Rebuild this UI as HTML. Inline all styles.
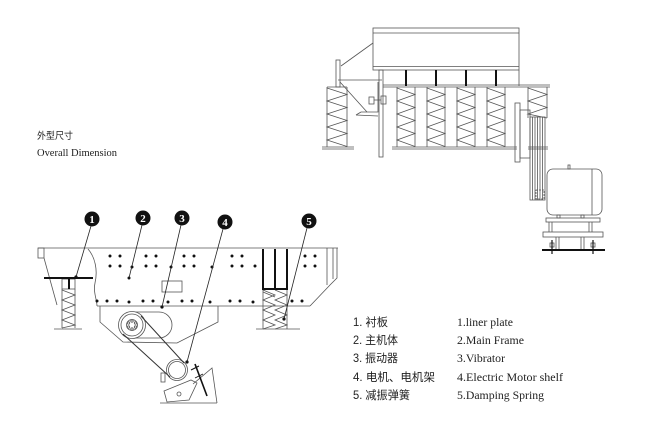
<!DOCTYPE html>
<html><head><meta charset="utf-8"><style>
html,body{margin:0;padding:0;background:#fff;}
svg{display:block;}
</style></head><body>
<svg width="645" height="444" viewBox="0 0 645 444" xmlns="http://www.w3.org/2000/svg">
<rect width="645" height="444" fill="#fff"/>

<!-- ============ TOP END VIEW ============ -->
<g stroke="#555" stroke-width="0.8" fill="none">
  <!-- top box -->
  <rect x="373" y="28" width="146" height="42"/>
  <line x1="373" y1="33" x2="519" y2="33"/>
  <line x1="373" y1="66.5" x2="519" y2="66.5"/>
  <line x1="519" y1="70" x2="519" y2="86"/>
  <!-- chute -->
  <line x1="373" y1="43" x2="341" y2="66"/>
  <rect x="336" y="60" width="4" height="27"/>
  <line x1="338" y1="80" x2="382" y2="80"/>
  <line x1="340" y1="82" x2="367" y2="112"/>
  <polyline points="361,112 378,112 378,82"/>
  <line x1="356" y1="115" x2="378" y2="116"/>
  <line x1="356" y1="115" x2="361" y2="112"/>
  <!-- post -->
  <rect x="379" y="70" width="4" height="87"/>
  <!-- bolt -->
  <rect x="369" y="97" width="5" height="7"/>
  <rect x="381" y="96" width="5" height="8"/>
  <line x1="374" y1="100" x2="381" y2="100"/>
  <!-- frame lines -->
  <line x1="383" y1="85" x2="550" y2="85"/>
  <line x1="383" y1="87" x2="550" y2="87"/>
  <!-- left spring -->
  <line x1="327" y1="87" x2="347" y2="87"/>
  <line x1="327" y1="87" x2="327" y2="147"/>
  <line x1="347" y1="87" x2="347" y2="147"/>
  <polyline points="327,88 347,94.5 327,101 347,107.5 327,114 347,120.5 327,127 347,133.5 327,140 347,146.5"/>
  <line x1="322" y1="147" x2="354" y2="147"/>
  <line x1="322" y1="149" x2="354" y2="149"/>
  <!-- main springs -->
  <g transform="translate(397,0)">
    <line x1="0" y1="87" x2="0" y2="147"/><line x1="18" y1="87" x2="18" y2="147"/>
    <polyline points="0,88 18,94.5 0,101 18,107.5 0,114 18,120.5 0,127 18,133.5 0,140 18,146.5"/>
  </g>
  <g transform="translate(427,0)">
    <line x1="0" y1="87" x2="0" y2="147"/><line x1="18" y1="87" x2="18" y2="147"/>
    <polyline points="0,88 18,94.5 0,101 18,107.5 0,114 18,120.5 0,127 18,133.5 0,140 18,146.5"/>
  </g>
  <g transform="translate(457,0)">
    <line x1="0" y1="87" x2="0" y2="147"/><line x1="18" y1="87" x2="18" y2="147"/>
    <polyline points="0,88 18,94.5 0,101 18,107.5 0,114 18,120.5 0,127 18,133.5 0,140 18,146.5"/>
  </g>
  <g transform="translate(487,0)">
    <line x1="0" y1="87" x2="0" y2="147"/><line x1="18" y1="87" x2="18" y2="147"/>
    <polyline points="0,88 18,94.5 0,101 18,107.5 0,114 18,120.5 0,127 18,133.5 0,140 18,146.5"/>
  </g>
  <line x1="392" y1="147" x2="517" y2="147"/>
  <line x1="392" y1="149" x2="517" y2="149"/>
  <!-- right partial spring -->
  <line x1="528" y1="87" x2="528" y2="118"/>
  <line x1="547" y1="87" x2="547" y2="118"/>
  <polyline points="528,88 547,94.5 528,101 547,107.5 528,114 547,118"/>
  <!-- plates -->
  <rect x="515" y="103" width="5" height="59"/>
  <rect x="520" y="110" width="10" height="48"/>
  <!-- belt guard -->
  <rect x="530" y="117" width="15" height="83"/>
  <line x1="532.5" y1="117" x2="532.5" y2="200"/>
  <line x1="535" y1="117" x2="535" y2="200"/>
  <line x1="537.5" y1="117" x2="537.5" y2="200"/>
  <line x1="540" y1="117" x2="540" y2="200"/>
  <line x1="542.5" y1="117" x2="542.5" y2="200"/>
  <line x1="528" y1="147" x2="548" y2="147"/>
  <line x1="528" y1="149" x2="548" y2="149"/>
  <rect x="536" y="190" width="8" height="9" stroke-dasharray="2,1"/>
  <!-- motor -->
  <rect x="547" y="169" width="55" height="46" rx="6"/>
  <line x1="592" y1="169" x2="592" y2="215"/>
  <rect x="568" y="165" width="2" height="4"/>
  <rect x="557" y="215" width="3" height="3"/>
  <rect x="581" y="215" width="3" height="3"/>
  <rect x="546" y="218" width="54" height="4"/>
  <line x1="549" y1="222" x2="549" y2="232"/>
  <line x1="552" y1="222" x2="552" y2="232"/>
  <line x1="589" y1="222" x2="589" y2="232"/>
  <line x1="592" y1="222" x2="592" y2="232"/>
  <rect x="543" y="232" width="60" height="5"/>
  <line x1="556" y1="237" x2="556" y2="250"/>
  <line x1="559" y1="237" x2="559" y2="250"/>
  <line x1="581" y1="237" x2="581" y2="250"/>
  <line x1="584" y1="237" x2="584" y2="250"/>
  <rect x="550" y="243" width="4" height="4"/>
  <rect x="591" y="243" width="4" height="4"/>
</g>
<!-- dark bars -->
<g stroke="#111" stroke-width="2">
  <line x1="406" y1="70" x2="406" y2="86"/>
  <line x1="436" y1="70" x2="436" y2="86"/>
  <line x1="466" y1="70" x2="466" y2="86"/>
  <line x1="496" y1="70" x2="496" y2="86"/>
  <line x1="542" y1="250" x2="605" y2="250"/>
</g>
<g stroke="#111" stroke-width="1.2">
  <line x1="552" y1="240" x2="552" y2="254"/>
  <line x1="593" y1="240" x2="593" y2="254"/>
</g>

<!-- ============ BOTTOM SIDE VIEW ============ -->
<g stroke="#555" stroke-width="0.8" fill="none">
  <line x1="38" y1="248" x2="338" y2="248"/>
  <rect x="38" y="248" width="6" height="10"/>
  <line x1="44" y1="258" x2="57" y2="305"/>
  <path d="M88,249 C95,257 98,270 95,283 C93,292 97,300 97,306"/>
  <line x1="97" y1="306" x2="310" y2="306"/>
  <polyline points="310,306 330,285 337,278 337,248"/>
  <line x1="327" y1="248" x2="327" y2="285"/>
  <line x1="333" y1="248" x2="333" y2="279"/>
  <!-- small rect -->
  <rect x="162" y="281" width="20" height="11"/>
  <!-- left spring -->
  <rect x="62" y="279" width="13" height="10"/>
  <line x1="62" y1="289" x2="62" y2="328"/>
  <line x1="75" y1="289" x2="75" y2="328"/>
  <polyline points="62,290 75,295 62,300 75,305 62,310 75,315 62,320 75,325 62,328"/>
  <line x1="54" y1="329" x2="82" y2="329"/>
  <!-- right springs -->
  <line x1="263" y1="289" x2="263" y2="329"/>
  <line x1="287" y1="289" x2="287" y2="329"/>
  <polyline points="263,290 275,295 263,300 275,305 263,310 275,315 263,320 275,325 263,329"/>
  <polyline points="275,290 287,295 275,300 287,305 275,310 287,315 275,320 287,325 275,329"/>
  <polyline points="263,292 275,297" />
  <line x1="256" y1="329" x2="300" y2="329"/>
  <!-- vibrator housing -->
  <polyline points="100,306 100,322 123,342 177,343 218,322 218,306"/>
  <rect x="120" y="312" width="52" height="26" rx="13"/>
  <circle cx="132" cy="325" r="13.5" fill="#fff"/>
  <circle cx="132" cy="325" r="11"/>
  <circle cx="132" cy="325" r="5.5"/>
  <circle cx="132" cy="321" r="1.2"/>
  <circle cx="135.5" cy="323" r="1.2"/>
  <circle cx="135.5" cy="327" r="1.2"/>
  <circle cx="132" cy="329" r="1.2"/>
  <circle cx="128.5" cy="327" r="1.2"/>
  <circle cx="128.5" cy="323" r="1.2"/>
  <!-- motor pulley -->
  <circle cx="177" cy="370" r="10.5" fill="#fff"/>
  <circle cx="177" cy="370" r="8.5"/>
  <!-- mount -->
  <rect x="161" y="373" width="4" height="9"/>
  <polygon points="164,391 191,380 197,383 189,400 167,402" fill="#fff"/>
  <circle cx="179" cy="394" r="2"/>
  <polyline points="193,384 212,368 217,403"/>
  <line x1="160" y1="403" x2="217" y2="403"/>
</g>
<!-- belts -->
<g stroke="#333" stroke-width="1">
  <line x1="141" y1="316" x2="184" y2="363"/>
  <line x1="123" y1="334" x2="170" y2="377"/>
</g>
<!-- rod -->
<g stroke="#111">
  <line x1="195" y1="364" x2="207" y2="396" stroke-width="1.6"/>
  <line x1="191" y1="370" x2="199" y2="366" stroke-width="1"/>
  <line x1="195" y1="378" x2="203" y2="374" stroke-width="0.8"/>
</g>
<!-- liner plate and spring box thick -->
<g stroke="#111" stroke-width="2" fill="none">
  <line x1="44" y1="278" x2="93" y2="278"/>
  <line x1="69" y1="279" x2="69" y2="289"/>
  <line x1="263" y1="249" x2="263" y2="289"/>
  <line x1="275" y1="249" x2="275" y2="289"/>
  <line x1="287" y1="249" x2="287" y2="289"/>
  <line x1="262" y1="289" x2="288" y2="289"/>
</g>

<!-- dots -->
<g fill="#111">
  <circle cx="110" cy="256" r="1.5"/><circle cx="120" cy="256" r="1.5"/>
  <circle cx="146" cy="256" r="1.5"/><circle cx="156" cy="256" r="1.5"/>
  <circle cx="184" cy="256" r="1.5"/><circle cx="194" cy="256" r="1.5"/>
  <circle cx="232" cy="256" r="1.5"/><circle cx="242" cy="256" r="1.5"/>
  <circle cx="305" cy="256" r="1.5"/><circle cx="315" cy="256" r="1.5"/>

  <circle cx="110" cy="266" r="1.5"/><circle cx="120" cy="266" r="1.5"/>
  <circle cx="132" cy="267" r="1.5"/>
  <circle cx="146" cy="266" r="1.5"/><circle cx="156" cy="266" r="1.5"/>
  <circle cx="171" cy="267" r="1.5"/>
  <circle cx="184" cy="266" r="1.5"/><circle cx="194" cy="266" r="1.5"/>
  <circle cx="212" cy="267" r="1.5"/>
  <circle cx="232" cy="266" r="1.5"/><circle cx="242" cy="266" r="1.5"/>
  <circle cx="255" cy="266" r="1.5"/>
  <circle cx="305" cy="266" r="1.5"/><circle cx="315" cy="266" r="1.5"/>

  <circle cx="129" cy="278" r="1.5"/>

  <circle cx="97" cy="301" r="1.5"/><circle cx="107" cy="301" r="1.5"/>
  <circle cx="117" cy="301" r="1.5"/><circle cx="129" cy="302" r="1.5"/>
  <circle cx="143" cy="301" r="1.5"/><circle cx="153" cy="301" r="1.5"/>
  <circle cx="168" cy="302" r="1.5"/><circle cx="182" cy="301" r="1.5"/>
  <circle cx="192" cy="301" r="1.5"/><circle cx="210" cy="302" r="1.5"/>
  <circle cx="230" cy="301" r="1.5"/><circle cx="240" cy="301" r="1.5"/>
  <circle cx="253" cy="302" r="1.5"/><circle cx="292" cy="301" r="1.5"/>
  <circle cx="302" cy="301" r="1.5"/>

  <circle cx="76" cy="277" r="1.6"/>
  <circle cx="162" cy="307" r="1.6"/>
  <circle cx="187" cy="362" r="1.6"/>
  <circle cx="284" cy="319" r="1.6"/>
</g>

<!-- leaders -->
<g stroke="#222" stroke-width="0.8">
  <line x1="91" y1="226" x2="76" y2="277"/>
  <line x1="142" y1="225" x2="129" y2="278"/>
  <line x1="181" y1="225" x2="162" y2="307"/>
  <line x1="223" y1="229" x2="187" y2="362"/>
  <line x1="307" y1="228" x2="284" y2="319"/>
</g>
<!-- number circles -->
<g fill="#111">
  <circle cx="92" cy="219" r="7.5"/>
  <circle cx="143" cy="218" r="7.5"/>
  <circle cx="182" cy="218" r="7.5"/>
  <circle cx="225" cy="222" r="7.5"/>
  <circle cx="309" cy="221" r="7.5"/>
</g>
<g fill="#fff" font-family="Liberation Serif, serif" font-weight="bold" font-size="11" text-anchor="middle">
  <text x="92" y="223">1</text>
  <text x="143" y="222">2</text>
  <text x="182" y="222">3</text>
  <text x="225" y="226">4</text>
  <text x="309" y="225">5</text>
</g>

<!-- Overall dimension text -->
<text x="37" y="139" font-family="Liberation Sans, 'Noto Sans CJK SC', sans-serif" font-size="9.5" fill="#222" textLength="36" lengthAdjust="spacingAndGlyphs">外型尺寸</text>
<text x="37" y="156" font-family="Liberation Serif, serif" font-size="11" fill="#222" textLength="80" lengthAdjust="spacingAndGlyphs">Overall Dimension</text>

<!-- legend -->
<g font-family="Liberation Sans, 'Noto Sans CJK SC', sans-serif" font-size="11.5" fill="#222">
  <text x="353" y="326" textLength="35" lengthAdjust="spacingAndGlyphs">1. 衬板</text>
  <text x="353" y="344" textLength="45" lengthAdjust="spacingAndGlyphs">2. 主机体</text>
  <text x="353" y="362" textLength="45" lengthAdjust="spacingAndGlyphs">3. 振动器</text>
  <text x="353" y="381" textLength="82" lengthAdjust="spacingAndGlyphs">4. 电机、电机架</text>
  <text x="353" y="399" textLength="57" lengthAdjust="spacingAndGlyphs">5. 减振弹簧</text>
</g>
<g font-family="Liberation Serif, serif" font-size="11.5" fill="#222">
  <text x="457" y="326" textLength="56" lengthAdjust="spacingAndGlyphs">1.liner plate</text>
  <text x="457" y="344" textLength="67" lengthAdjust="spacingAndGlyphs">2.Main Frame</text>
  <text x="457" y="362" textLength="48" lengthAdjust="spacingAndGlyphs">3.Vibrator</text>
  <text x="457" y="381" textLength="106" lengthAdjust="spacingAndGlyphs">4.Electric Motor shelf</text>
  <text x="457" y="399" textLength="87" lengthAdjust="spacingAndGlyphs">5.Damping Spring</text>
</g>
</svg>
</body></html>
